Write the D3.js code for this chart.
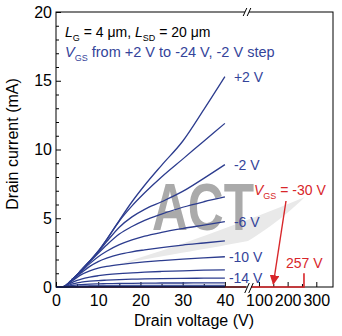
<!DOCTYPE html>
<html><head><meta charset="utf-8">
<script src="https://cdn.jsdelivr.net/npm/d3@7"></script>
<style>html,body{margin:0;padding:0;background:#fff;}svg{display:block;}</style>
</head><body>
<svg id="c" width="342" height="336"></svg>
<script>
// ---- data ----
const vds = [0, 1, 2, 3, 4, 5, 6, 8, 10, 12, 15, 18, 21, 25, 30, 35, 40];
const vgsList = [2, 0, -2, -4, -6, -8, -10, -12, -14, -16, -18, -20, -22, -24];
const idP2  = [0, 0, 0.05, 0.3, 0.6, 0.9, 1.25, 1.9, 2.6, 3.45, 4.85, 6.2, 7.4, 8.85, 10.6, 12.9, 15.3];
const id0   = [0, 0, 0.05, 0.3, 0.6, 0.9, 1.25, 1.9, 2.6, 3.45, 4.8, 5.9, 6.85, 8.0, 9.3, 10.6, 11.9];
const idM2  = [0, 0, 0.05, 0.3, 0.6, 0.9, 1.22, 1.87, 2.55, 3.3, 4.35, 5.1, 5.65, 6.2, 6.95, 7.9, 8.9];
const idM4  = [0, 0, 0.05, 0.3, 0.6, 0.9, 1.2, 1.82, 2.45, 3.05, 3.85, 4.4, 4.85, 5.3, 5.8, 6.2, 6.55];
const idM6  = [0, 0, 0.05, 0.28, 0.57, 0.86, 1.12, 1.7, 2.2, 2.6, 3.08, 3.43, 3.7, 3.97, 4.25, 4.5, 4.75];
const idM8  = [0, 0, 0.05, 0.27, 0.54, 0.8, 1.04, 1.5, 1.85, 2.1, 2.38, 2.56, 2.7, 2.87, 3.05, 3.2, 3.35];
const idM10 = [0, 0, 0.04, 0.25, 0.48, 0.7, 0.9, 1.18, 1.38, 1.5, 1.63, 1.73, 1.82, 1.92, 2.03, 2.12, 2.2];
const idM12 = [0, 0, 0.03, 0.2, 0.35, 0.48, 0.58, 0.72, 0.82, 0.9, 0.98, 1.03, 1.08, 1.13, 1.18, 1.22, 1.25];
const idM14 = [0, 0, 0.02, 0.12, 0.22, 0.3, 0.35, 0.42, 0.47, 0.5, 0.54, 0.57, 0.59, 0.61, 0.63, 0.64, 0.65];
const idM16 = [0, 0, 0.01, 0.07, 0.12, 0.16, 0.18, 0.21, 0.23, 0.24, 0.26, 0.27, 0.28, 0.29, 0.29, 0.3, 0.3];
const idM18 = [0, 0, 0.01, 0.03, 0.05, 0.07, 0.08, 0.09, 0.1, 0.1, 0.11, 0.11, 0.11, 0.12, 0.12, 0.12, 0.12];
const idM20 = [0, 0, 0, 0.01, 0.02, 0.03, 0.03, 0.04, 0.04, 0.04, 0.05, 0.05, 0.05, 0.05, 0.05, 0.05, 0.05];
const idM22 = [0, 0, 0, 0, 0.01, 0.01, 0.01, 0.02, 0.02, 0.02, 0.02, 0.02, 0.02, 0.02, 0.02, 0.02, 0.02];
const idM24 = [0, 0, 0, 0, 0, 0, 0.01, 0.01, 0.01, 0.01, 0.01, 0.01, 0.01, 0.01, 0.01, 0.01, 0.01];
const idSeries = [idP2, id0, idM2, idM4, idM6, idM8, idM10, idM12, idM14, idM16, idM18, idM20, idM22, idM24];
const curveLabels = [["+2 V", 0], ["-2 V", 2], ["-6 V", 4], ["-10 V", 6], ["-14 V", 8]];
// V_GS = -30 V (off state) up to breakdown
const offV = [0, 45, 60, 257, 257];
const offI = [0, 0, 0, 0, 1.0];
const breakdownV = 257;
const arrowTarget = 150;
const xTicks1 = [0, 10, 20, 30, 40];
const xMinor1 = [5, 15, 25, 35];
const xTicks2 = [100, 200, 300];
const xMinor2 = [150, 250];
const yTicks = [0, 5, 10, 15, 20];
const yMinor = d3.range(0, 21).filter(d => d % 5 !== 0);

// ---- scales ----
const L = 56, R = 333, T = 12, B = 287, BRK = 60;
const y = d3.scaleLinear([0, 20], [B, T]);
const x1 = d3.scaleLinear([0, 45], [L, 246]);
const x2 = d3.scaleLinear([BRK, 360], [247.5, R + 0.5]);
const xp = v => v < BRK ? x1(v) : x2(v);

const FONT = "'Liberation Sans', Arial, sans-serif";
const BLUE = "#2c3c8e", LBLUE = "#34449a", RED = "#d8262a";
const svg = d3.select("#c").style("font-family", FONT);

// watermark
svg.append("path")
  .attr("d", "M120,264 C175,247 240,224 305,197 C282,219 264,231 248,241 C212,248 172,254 120,264 Z")
  .attr("fill", "#e9e9e9");
svg.append("text").text("ACT").attr("x", 152).attr("y", 230)
  .attr("font-size", 67).attr("font-weight", "bold").attr("fill", "#aaaaaa")
  .attr("textLength", 102).attr("lengthAdjust", "spacingAndGlyphs");

// axes ticks
function styleAxis(g) {
  g.select(".domain").remove();
  g.selectAll("line").attr("stroke", "#000").attr("stroke-width", 1);
  g.selectAll("text").attr("font-size", 16).attr("fill", "#000").style("font-family", FONT);
}
svg.append("g").attr("transform", `translate(0,${B})`)
  .call(d3.axisBottom(x1).tickValues(xTicks1).tickSize(-5).tickPadding(8)).call(styleAxis);
svg.append("g").attr("transform", `translate(0,${B})`)
  .call(d3.axisBottom(x1).tickValues(xMinor1).tickSize(-3).tickFormat("")).call(styleAxis);
svg.append("g").attr("transform", `translate(0,${B})`)
  .call(d3.axisBottom(x2).tickValues(xTicks2).tickSize(-5).tickPadding(8)).call(styleAxis);
svg.append("g").attr("transform", `translate(0,${B})`)
  .call(d3.axisBottom(x2).tickValues(xMinor2).tickSize(-3).tickFormat("")).call(styleAxis);
svg.append("g").attr("transform", `translate(${L},0)`)
  .call(d3.axisLeft(y).tickValues(yTicks).tickSize(-5).tickPadding(4)).call(styleAxis);
svg.append("g").attr("transform", `translate(${L},0)`)
  .call(d3.axisLeft(y).tickValues(yMinor).tickSize(-3).tickFormat("")).call(styleAxis);

// curves
const line = d3.line().x(d => x1(d[0])).y(d => y(d[1])).curve(d3.curveMonotoneX);
const offPts = offV.map((v, i) => [v, offI[i]]);
const redLine = d3.line().x(d => xp(d[0])).y(d => y(d[1]));
svg.append("path").attr("d", redLine(offPts.filter(d => d[0] < BRK)))
  .attr("fill", "none").attr("stroke", RED).attr("stroke-width", 1.6);

idSeries.forEach((s, k) => {
  svg.append("path").datum(vds.map((v, i) => [v, s[i]]))
    .attr("d", line).attr("fill", "none").attr("stroke", BLUE)
    .attr("stroke-width", 1.3).attr("stroke-opacity", k > 9 ? 0.8 : 1);
});

// frame
svg.append("rect").attr("x", L).attr("y", T).attr("width", R - L).attr("height", B - T)
  .attr("fill", "none").attr("stroke", "#000").attr("stroke-width", 1);
svg.append("path").attr("d", redLine(offPts.filter(d => d[0] >= BRK)))
  .attr("fill", "none").attr("stroke", RED).attr("stroke-width", 1.6);

// axis breaks
function brk(cx, cy, h) {
  svg.append("rect").attr("x", cx - 2).attr("y", cy - 2).attr("width", 4).attr("height", 4).attr("fill", "#fff");
  [-2, 2].forEach(dx => svg.append("line")
    .attr("x1", cx + dx - h * 0.45).attr("y1", cy + h).attr("x2", cx + dx + h * 0.45).attr("y2", cy - h)
    .attr("stroke", "#000").attr("stroke-width", 1));
}
brk(247, T, 4);
brk(249, B + 1, 5);

// curve labels
curveLabels.forEach(([t, k]) => {
  const s = idSeries[k];
  svg.append("text").text(t).attr("x", x1(40) + 7).attr("y", y(s[s.length - 1]) + 5)
    .attr("font-size", 14).attr("fill", LBLUE)
    .attr("dx", t.length > 4 ? -3 : 2);
});

// header text
const h1 = svg.append("text").attr("x", 65).attr("y", 37).attr("font-size", 14).attr("fill", "#000");
h1.append("tspan").text("L").attr("font-style", "italic");
h1.append("tspan").text("G").attr("font-size", 9).attr("dy", 4);
h1.append("tspan").text(" = 4 μm, ").attr("dy", -4);
h1.append("tspan").text("L").attr("font-style", "italic");
h1.append("tspan").text("SD").attr("font-size", 9).attr("dy", 4);
h1.append("tspan").text(" = 20 μm").attr("dy", -4);
const h2 = svg.append("text").attr("x", 65).attr("y", 57).attr("font-size", 14.5).attr("fill", LBLUE);
h2.append("tspan").text("V").attr("font-style", "italic");
h2.append("tspan").text("GS").attr("font-size", 9).attr("dy", 4);
h2.append("tspan").text(" from +2 V to -24 V, -2 V step").attr("dy", -4);

// red annotation
const r1 = svg.append("text").attr("x", 254).attr("y", 195).attr("font-size", 14).attr("fill", RED);
r1.append("tspan").text("V").attr("font-style", "italic");
r1.append("tspan").text("GS").attr("font-size", 9).attr("dy", 4);
r1.append("tspan").text(" = -30 V").attr("dy", -4);
svg.append("text").text(breakdownV + " V").attr("x", 286).attr("y", 268)
  .attr("font-size", 14).attr("fill", RED);
svg.append("defs").append("marker").attr("id", "ah").attr("viewBox", "0 0 10 10")
  .attr("refX", 9).attr("refY", 5).attr("markerWidth", 7).attr("markerHeight", 7)
  .attr("orient", "auto").append("path").attr("d", "M0,0 L10,5 L0,10 Z").attr("fill", RED);
svg.append("line").attr("x1", 286).attr("y1", 201).attr("x2", x2(arrowTarget)).attr("y2", y(0) - 3)
  .attr("stroke", RED).attr("stroke-width", 1.4).attr("marker-end", "url(#ah)");

// axis titles
svg.append("text").text("Drain voltage (V)").attr("x", 194).attr("y", 326)
  .attr("text-anchor", "middle").attr("font-size", 16);
svg.append("text").text("Drain current (mA)").attr("transform", "translate(18,144) rotate(-90)")
  .attr("text-anchor", "middle").attr("font-size", 16);
</script>
</body></html>
